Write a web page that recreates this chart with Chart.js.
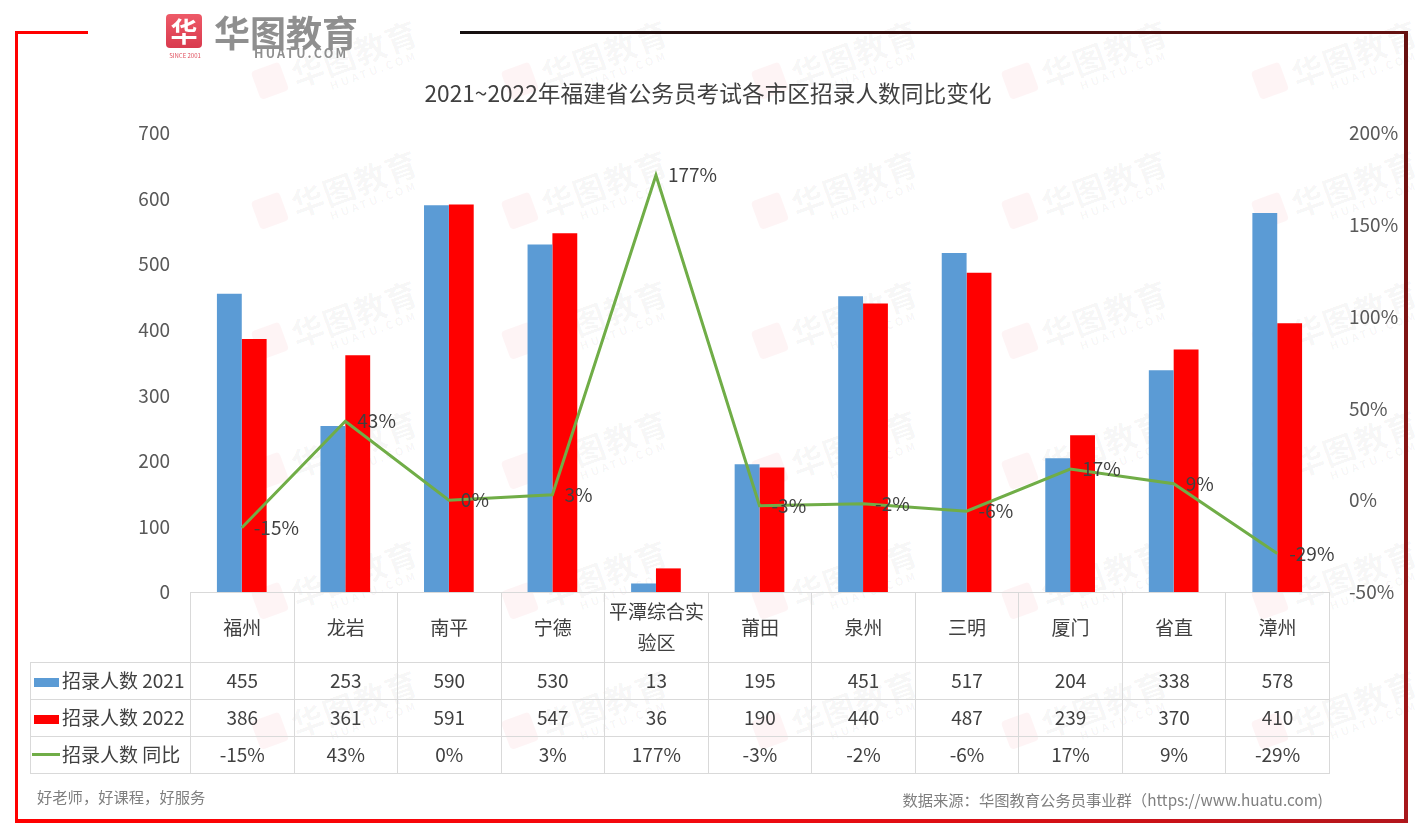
<!DOCTYPE html>
<html>
<head>
<meta charset="utf-8">
<script src="https://cdn.jsdelivr.net/npm/chart.js@4/dist/chart.umd.min.js"></script>
<style>
  html, body { margin: 0; padding: 0; background: #fff; }
  body { width: 1416px; height: 832px; position: relative; overflow: hidden;
         font-family: 'Noto Sans CJK SC', 'Noto Sans', sans-serif; }
  #wm { position: absolute; left: 0; top: 0; width: 1416px; height: 832px; z-index: 0; pointer-events: none; }
  .wmk { position: absolute; transform: rotate(-20deg); transform-origin: left top; white-space: nowrap; }
  .wmk .ic { position: absolute; left: 0; top: 2px; width: 30px; height: 30px; border-radius: 4px; background: rgba(235,70,85,0.06); }
  .wmk .tx { position: absolute; left: 38px; top: -4px; font-size: 32px; font-weight: bold; color: rgba(0,0,0,0.038); letter-spacing: 1px; }
  .wmk .sub { position: absolute; left: 70px; top: 34px; font-size: 11px; font-weight: bold; color: rgba(0,0,0,0.045); letter-spacing: 3px; }
  #wrap { position: absolute; left: 0; top: 0; width: 1416px; height: 832px; z-index: 1; }
  #title { position: absolute; left: 0; width: 1416px; top: 76px; text-align: center; font-size: 22.7px; color: #404040; z-index: 2; }
  #tbl { position: absolute; z-index: 2; border-collapse: collapse; table-layout: fixed; color: #404040; font-size: 19px; }
  #tbl td { border: 1px solid #d9d9d9; text-align: center; padding: 0 0 2px 0; overflow: hidden; white-space: nowrap; }
  #tbl td.corner { border-top: none; border-left: none; }
  #tbl td.hd { line-height: 31px; white-space: normal; }
  #tbl td.lab { text-align: left; padding-left: 3px; }
  .sw { display: inline-block; width: 25px; height: 9px; margin-right: 3px; vertical-align: 1px; }
  .swl { display: inline-block; width: 28px; height: 3px; margin-left: -2px; margin-right: 2px; vertical-align: 6px; background: #70AD47; }
  .line { position: absolute; z-index: 3; }
  .foot { position: absolute; z-index: 2; font-size: 15.3px; color: #7f7f7f; white-space: nowrap; }
  #logo { position: absolute; left: 166px; top: 14px; z-index: 3; }
  #logo .icon { position: absolute; left: 0; top: 0; width: 36px; height: 34px; border-radius: 4px;
                background: linear-gradient(#ee5a68, #d93a4e); color: #fff; font-size: 27px; font-weight: bold;
                line-height: 34px; text-align: center; }
  #logo .since { position: absolute; left: 0; top: 37px; width: 38px; font-size: 6px; color: #e0505e; text-align: center; white-space: nowrap; }
  #logo .name { position: absolute; left: 48px; top: -9px; font-size: 36px; font-weight: bold; color: #8f8f8f; white-space: nowrap; letter-spacing: 0px; }
  #logo .url { position: absolute; left: 88px; top: 29px; font-size: 12.5px; font-weight: bold; color: #8f8f8f; letter-spacing: 2.2px; white-space: nowrap; }
</style>
</head>
<body>
<div id="wm"></div>
<div id="wrap"><canvas id="c"></canvas></div>
<div id="title">2021~2022年福建省公务员考试各市区招录人数同比变化</div>
<table id="tbl"></table>
<div class="foot" style="left:37px; top:785px;">好老师，好课程，好服务</div>
<div class="foot" style="right:93px; top:788px;">数据来源：华图教育公务员事业群（https://www.huatu.com)</div>
<div id="logo">
  <div class="icon">华</div>
  <div class="since">SINCE 2001</div>
  <div class="name">华图教育</div>
  <div class="url">HUATU.COM</div>
</div>
<!-- frame -->
<div class="line" style="left:15px; top:31px; width:73px; height:2.5px; background:#ff0000;"></div>
<div class="line" style="left:15px; top:31px; width:3px; height:791px; background:#ff0000;"></div>
<div class="line" style="left:15px; top:819px; width:1393px; height:3.5px; background:linear-gradient(90deg,#ff0000 0%,#f20a10 50%,#b3161c 100%);"></div>
<div class="line" style="left:460px; top:31px; width:948px; height:2.5px; background:linear-gradient(90deg,#151010 0%,#3a0c0c 50%,#661010 100%);"></div>
<div class="line" style="left:1404px; top:31px; width:3.5px; height:791px; background:linear-gradient(#661010,#8d1616 60%,#a8181c);"></div>
<script>
// ---------------- data ----------------
const categories = ['福州', '龙岩', '南平', '宁德', '平潭综合实验区', '莆田', '泉州', '三明', '厦门', '省直', '漳州'];
const headerLabels = ['福州', '龙岩', '南平', '宁德', '平潭综合实<br>验区', '莆田', '泉州', '三明', '厦门', '省直', '漳州'];
const recruit2021 = [455, 253, 590, 530, 13, 195, 451, 517, 204, 338, 578];
const recruit2022 = [386, 361, 591, 547, 36, 190, 440, 487, 239, 370, 410];
const yoyPct = [-15, 43, 0, 3, 177, -3, -2, -6, 17, 9, -29];
const seriesNames = ['招录人数 2021', '招录人数 2022', '招录人数 同比'];
const leftAxis = { min: 0, max: 700, step: 100 };
const rightAxis = { min: -50, max: 200, step: 50 };

// ---------------- watermarks ----------------
(function () {
  const wm = document.getElementById('wm');
  const xs = [250, 500, 750, 1000, 1250];
  const ys = [70, 200, 330, 460, 590, 720];
  ys.forEach(function (y) {
    xs.forEach(function (x) {
      const d = document.createElement('div');
      d.className = 'wmk';
      d.style.left = x + 'px';
      d.style.top = y + 'px';
      d.innerHTML = '<div class="ic"></div><div class="tx">华图教育</div><div class="sub">HUATU.COM</div>';
      wm.appendChild(d);
    });
  });
})();

const FONT = "'Noto Sans CJK SC', 'Noto Sans', sans-serif";
const TXT = '#404040';

const lineLabels = {
  id: 'lineLabels',
  afterDatasetsDraw(chart) {
    const meta = chart.getDatasetMeta(2);
    const ctx = chart.ctx;
    ctx.save();
    ctx.font = '19px ' + FONT;
    ctx.fillStyle = TXT;
    ctx.textAlign = 'left';
    ctx.textBaseline = 'middle';
    meta.data.forEach(function (pt, i) {
      ctx.fillText(yoyPct[i] + '%', pt.x + 12, pt.y);
    });
    ctx.restore();
  }
};

const chart = new Chart(document.getElementById('c'), {
  type: 'bar',
  data: {
    labels: categories,
    datasets: [
      { label: seriesNames[0], data: recruit2021, backgroundColor: '#5B9BD5', yAxisID: 'y', order: 2,
        categoryPercentage: 0.48, barPercentage: 1.0 },
      { label: seriesNames[1], data: recruit2022, backgroundColor: '#FF0000', yAxisID: 'y', order: 2,
        categoryPercentage: 0.48, barPercentage: 1.0 },
      { type: 'line', label: seriesNames[2], data: yoyPct, borderColor: '#70AD47', backgroundColor: '#70AD47',
        borderWidth: 3, pointRadius: 0, tension: 0, yAxisID: 'y1', order: 0 }
    ]
  },
  options: {
    responsive: true,
    maintainAspectRatio: false,
    animation: false,
    layout: { padding: { top: 133, bottom: 240, left: 0, right: 0 } },
    plugins: { legend: { display: false }, title: { display: false }, tooltip: { enabled: false } },
    scales: {
      x: { display: false, offset: true },
      y: {
        position: 'left', min: leftAxis.min, max: leftAxis.max,
        grid: { display: false, drawTicks: false }, border: { display: false },
        ticks: { stepSize: leftAxis.step, color: '#595959', font: { size: 19, family: FONT }, padding: 20 },
        afterFit(s) { s.width = 190; }
      },
      y1: {
        position: 'right', min: rightAxis.min, max: rightAxis.max,
        grid: { display: false, drawTicks: false }, border: { display: false },
        ticks: { stepSize: rightAxis.step, color: '#595959', font: { size: 19, family: FONT }, padding: 20,
                 callback: function (v) { return v + '%'; } },
        afterFit(s) { s.width = 87; }
      }
    }
  },
  plugins: [lineLabels]
});

// ---------------- data table under the plot ----------------
(function () {
  const ca = chart.chartArea;
  const tbl = document.getElementById('tbl');
  const labW = ca.left - 30;
  const colW = (ca.right - ca.left) / categories.length;
  tbl.style.left = '30px';
  tbl.style.top = (ca.bottom - 0.5) + 'px';
  tbl.style.width = (ca.right - 30) + 'px';
  let html = '<colgroup><col style="width:' + labW + 'px">';
  categories.forEach(function () { html += '<col style="width:' + colW + 'px">'; });
  html += '</colgroup>';
  html += '<tr style="height:70px"><td class="corner"></td>';
  headerLabels.forEach(function (c) { html += '<td class="hd">' + c + '</td>'; });
  html += '</tr>';
  const rows = [
    { sw: '<span class="sw" style="background:#5B9BD5"></span>', vals: recruit2021.map(String) },
    { sw: '<span class="sw" style="background:#FF0000"></span>', vals: recruit2022.map(String) },
    { sw: '<span class="swl"></span>', vals: yoyPct.map(function (v) { return v + '%'; }) }
  ];
  rows.forEach(function (r, i) {
    html += '<tr style="height:37px"><td class="lab">' + r.sw + seriesNames[i] + '</td>';
    r.vals.forEach(function (v) { html += '<td>' + v + '</td>'; });
    html += '</tr>';
  });
  tbl.innerHTML = html;
})();
</script>
</body>
</html>
